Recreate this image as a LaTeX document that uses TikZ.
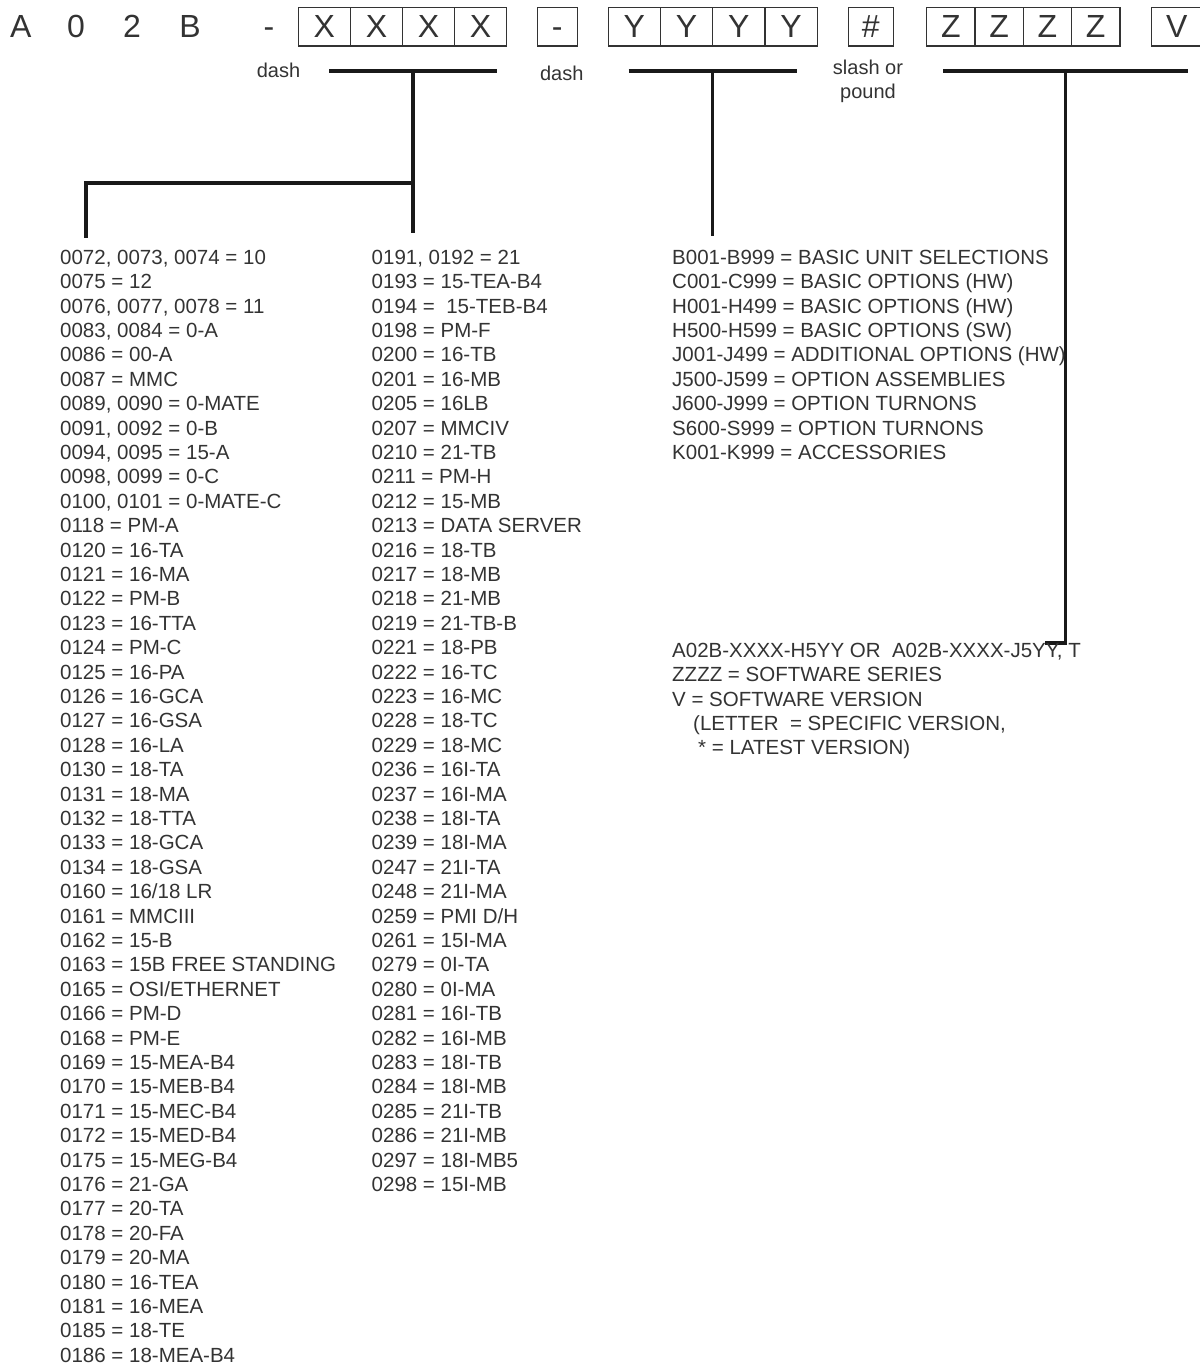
\documentclass[tikz,border=0pt]{standalone}
\usepackage{fontspec}
\setmainfont{Liberation Sans}
\colorlet{ink}{black!80}
\tikzset{
  cell/.style={draw=ink, line width=1.2pt, inner sep=0pt, minimum height=38.7pt,
    text height=22.7pt, text depth=0pt, font=\fontsize{32}{36}\selectfont, text=ink},
  code/.style={inner sep=0pt, anchor=base, font=\fontsize{32}{36}\selectfont, text=ink},
  bar/.style={draw=black!90, line width=3.8pt},
  lead/.style={draw=black!90, line width=3.4pt, line join=miter},
  note/.style={inner sep=0pt, font=\fontsize{20}{24}\selectfont, text=ink},
  listing/.style={inner sep=0pt, anchor=north west, align=left,
    font=\fontsize{20.5}{24.4}\selectfont, text=ink}
}

\begin{document}
\begin{tikzpicture}[x=1pt,y=-1pt]
\useasboundingbox (0,0) rectangle (1199,1367);

% fixed prefix
\node[code] (pa) at (20.7,38) {A};
\node[code] (p0) at (76,38) {0};
\node[code] (p2) at (132,38) {2};
\node[code] (pb) at (190,38) {B};
\node[code] (pd) at (269,38) {-};

% boxes
\foreach \i in {0,...,3} {
  \node[cell, minimum width=52.1pt] (x\i) at (324.35+52.1*\i,26.65) {X};
  \node[cell, minimum width=52.25pt] (y\i) at (634.4+52.25*\i,26.65) {Y};
  \node[cell, minimum width=48.3pt] (z\i) at (950.85+48.3*\i,26.65) {Z};
}
\node[cell, minimum width=40pt] (dashbox) at (557.3,26.65) {-};
\node[cell, minimum width=45pt] (poundbox) at (870.8,26.65) {\#};
\node[cell, minimum width=50pt] (vbox) at (1176.7,26.65) {V};

% separator labels
\node[note] (dash1) at (278.5,70.7) {dash};
\node[note] (dash2) at (561.7,73.5) {dash};
\node[note, align=center, anchor=north] (slash) at (868,60) {slash or\\pound};

% bars
\coordinate (xl) at (329,71);
\coordinate (xr) at (497,71);
\coordinate (xm) at (413,71);
\coordinate (yl) at (628.7,71);
\coordinate (yr) at (796.7,71);
\coordinate (ym) at (712.3,71);
\coordinate (zl) at (943.3,71);
\coordinate (zr) at (1188.3,71);
\coordinate (zm) at (1065.7,71);
\draw[bar] (xl) -- (xr);
\draw[bar] (yl) -- (yr);
\draw[bar] (zl) -- (zr);

% leads down to the lists
\coordinate (xend) at (413,233);
\coordinate (xknee) at (413,183);
\coordinate (xcorner) at (86,183);
\coordinate (xleft) at (86,238);
\coordinate (yend) at (712.3,236);
\coordinate (zknee) at (1065.7,643);
\coordinate (zend) at (1045,643);
\draw[lead] (xm) -- (xend);
\draw[lead] (xknee) -- (xcorner) -- (xleft);
\draw[lead] (ym) -- (yend);
\draw[lead] (zm) -- (zknee) -- (zend);

% XXXX codes
\node[listing] (col1) at (60,249.7) {0072, 0073, 0074 = 10\\
0075 = 12\\
0076, 0077, 0078 = 11\\
0083, 0084 = 0-A\\
0086 = 00-A\\
0087 = MMC\\
0089, 0090 = 0-MATE\\
0091, 0092 = 0-B\\
0094, 0095 = 15-A\\
0098, 0099 = 0-C\\
0100, 0101 = 0-MATE-C\\
0118 = PM-A\\
0120 = 16-TA\\
0121 = 16-MA\\
0122 = PM-B\\
0123 = 16-TTA\\
0124 = PM-C\\
0125 = 16-PA\\
0126 = 16-GCA\\
0127 = 16-GSA\\
0128 = 16-LA\\
0130 = 18-TA\\
0131 = 18-MA\\
0132 = 18-TTA\\
0133 = 18-GCA\\
0134 = 18-GSA\\
0160 = 16/18 LR\\
0161 = MMCIII\\
0162 = 15-B\\
0163 = 15B FREE STANDING\\
0165 = OSI/ETHERNET\\
0166 = PM-D\\
0168 = PM-E\\
0169 = 15-MEA-B4\\
0170 = 15-MEB-B4\\
0171 = 15-MEC-B4\\
0172 = 15-MED-B4\\
0175 = 15-MEG-B4\\
0176 = 21-GA\\
0177 = 20-TA\\
0178 = 20-FA\\
0179 = 20-MA\\
0180 = 16-TEA\\
0181 = 16-MEA\\
0185 = 18-TE\\
0186 = 18-MEA-B4};

\node[listing] (col2) at (371.5,249.7) {0191, 0192 = 21\\
0193 = 15-TEA-B4\\
0194 =\ \ 15-TEB-B4\\
0198 = PM-F\\
0200 = 16-TB\\
0201 = 16-MB\\
0205 = 16LB\\
0207 = MMCIV\\
0210 = 21-TB\\
0211 = PM-H\\
0212 = 15-MB\\
0213 = DATA SERVER\\
0216 = 18-TB\\
0217 = 18-MB\\
0218 = 21-MB\\
0219 = 21-TB-B\\
0221 = 18-PB\\
0222 = 16-TC\\
0223 = 16-MC\\
0228 = 18-TC\\
0229 = 18-MC\\
0236 = 16I-TA\\
0237 = 16I-MA\\
0238 = 18I-TA\\
0239 = 18I-MA\\
0247 = 21I-TA\\
0248 = 21I-MA\\
0259 = PMI D/H\\
0261 = 15I-MA\\
0279 = 0I-TA\\
0280 = 0I-MA\\
0281 = 16I-TB\\
0282 = 16I-MB\\
0283 = 18I-TB\\
0284 = 18I-MB\\
0285 = 21I-TB\\
0286 = 21I-MB\\
0297 = 18I-MB5\\
0298 = 15I-MB};

% YYYY codes
\node[listing] (col3) at (672,249.7) {B001-B999 = BASIC UNIT SELECTIONS\\
C001-C999 = BASIC OPTIONS (HW)\\
H001-H499 = BASIC OPTIONS (HW)\\
H500-H599 = BASIC OPTIONS (SW)\\
J001-J499 = ADDITIONAL OPTIONS (HW)\\
J500-J599 = OPTION ASSEMBLIES\\
J600-J999 = OPTION TURNONS\\
S600-S999 = OPTION TURNONS\\
K001-K999 = ACCESSORIES};

% ZZZZ and V
\node[listing] (soft) at (672,642.7) {A02B-XXXX-H5YY OR\ \ A02B-XXXX-J5YY, T\\
ZZZZ = SOFTWARE SERIES\\
V = SOFTWARE VERSION\\
\hspace*{21pt}(LETTER\ \ = SPECIFIC VERSION,\\
\hspace*{26pt}* = LATEST VERSION)};
\end{tikzpicture}
\end{document}
